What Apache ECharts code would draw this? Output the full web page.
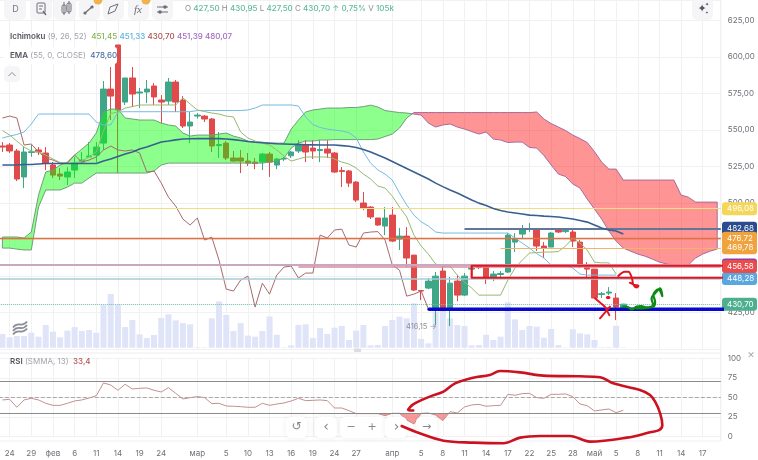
<!DOCTYPE html>
<html><head><meta charset="utf-8">
<style>html,body{margin:0;padding:0;background:#fff}#c{width:758px;height:460px}</style>
<script src="https://cdn.jsdelivr.net/npm/echarts@6/dist/echarts.min.js"></script>
</head><body><div id="c"></div>
<script>
const tickIndex=[1,4,7,10,13,16,19,22,27,31,34,37,40,43,46,49,54,58,61,64,67,70,73,76,79,82,85,88,91,94,97];
const tickLabels=['24','29','фев','6','11','14','19','24','мар','5','10','13','16','19','24','27','апр','5','8','11','14','17','22','25','28','май','5','8','11','14','17'];
const priceTicks=[425,450,475,500,525,550,575,600,625];
// [open, close, low, high]
const candles=[[539,538.3,534.9,541.7],[539.7,535.6,534.2,541],[535.6,516.4,515,537],[517.8,534.9,510.2,538.3],[534.6,535.1,531.7,539.7],[536.3,534.9,532.8,538.3],[534.2,527.3,522.5,538.3],[526,519.1,517.1,528],[519.8,518.4,515.7,523.9],[517.8,521.2,512.3,524.6],
[522.5,527.3,517.1,531.5],[528,529.4,526.7,534.9],[531.5,532.1,531.5,541.7],[532.8,538.3,528,541.7],[541,578,536.3,583.5],[578,573.2,556.8,593.1],[608.2,563.7,520.5,608.2],[569.1,585.6,567.1,585.6],[585.6,574.6,565.7,593.1],[575.3,576,565,578.7],
[576,578,568.4,584.2],[580.1,572.6,567.1,582.1],[570.5,569.1,554.7,573.9],[569.8,582.8,567.1,585.6],[582.8,569.1,562.3,584.2],[570.5,552.7,551.3,573.2],[552.7,555.4,541,562.3],[559.5,560.2,557.8,561.6],[559.5,557.5,555.4,560.2],[557.5,539,534.9,558.2],
[539.3,540,530.8,548.6],[541,530.8,529.4,542.4],[530.8,528.7,528,535.6],[530.8,528.7,520.5,536.3],[528.7,527.3,525.3,534.2],[528,527,523.2,530.8],[528,533.5,522.5,534.2],[533.5,528,517.8,534.9],[526,530.1,523.2,530.8],[530.1,530.4,528.7,531.5],
[532.3,534.9,530.8,535.6],[535.6,539.7,534.2,543.1],[539.7,534.9,528,543.1],[537.6,535.6,530.1,543.1],[535.9,536.6,528,543.1],[536.9,534.2,530.8,543.1],[534.2,521.2,520.5,534.9],[522.2,521.5,510.9,524.6],[521.9,513.6,510.9,522.6],[514.3,502,500.6,515],
[500,496.5,495.1,507.5],[497.2,490.4,489,497.9],[489.7,484.9,484.2,489.7],[484.2,489.7,478,497.2],[491.7,473.9,473.2,497.2],[475.3,477.3,467.8,482.8],[477.3,462.3,456.1,483.5],[464.3,440.4,439.7,464.3],[440,439.7,433.5,440.4],[441.7,446.5,441,448.6],
[428,449.9,416.2,452.7],[453.4,428,426,457.5],[428,445.1,415.7,449.3],[446.5,436.9,432.8,450.6],[436.9,449.9,436.2,452],[454.7,455.4,453.4,456.1],[456.4,455.7,454.7,457.5],[456.1,449.3,444.5,456.8],[449.3,451.3,446.5,453.4],[451,451.7,449.3,453.4],
[452.7,478,452,479.4],[473.2,475.3,466.4,479.4],[478.7,481.5,475.3,484.9],[481.8,482.5,480.1,486.2],[482.1,470.5,467.1,482.8],[470.5,469.1,462.3,473.2],[469.8,479.4,469.8,480.1],[481.5,480.1,479.4,482.8],[480.4,481.1,479.4,482.1],[480.1,473.9,469.8,481.5],
[473.2,456.8,455.4,474.6],[456.1,454.7,449.3,459.5],[454.7,434.9,434.9,454.7],[437.3,437.9,434.9,439],[438.3,439,436.9,442.4],[434.9,428.7,419.8,438.3],[427.5,430.7,427.5,430.95]];
const volumes=[66,50,56,56,72,53,109,77,50,82,99,80,85,72,205,258,205,99,133,64,46,61,142,160,131,118,112,2,2,141,222,157,80,118,58,53,80,150,62,2,11,109,112,46,94,66,96,104,37,82,109,11,13,104,133,149,141,213,42,21,173,213,141,109,104,11,13,62,37,53,218,136,85,104,101,48,90,13,2,88,69,64,37,3,3,105,2];
const tenkan=[549.6,546.5,542.4,538.3,535.6,534.9,532.8,530.1,527.7,527.3,527.3,528.7,531.5,534.9,549.3,561.3,562.3,565,566,567.1,567.1,567.1,567.1,567.1,567.1,571.9,567.8,563.7,562.6,561.6,560.9,559.5,558.9,548.6,544.5,542.4,541,539.7,536.3,532.1,528.7,530.1,531.5,531.5,531.5,531.5,530.1,528,526.7,523.9,519.8,516.4,511.6,510.2,504.7,497.2,490.4,478,470.5,465,458.2,456.8,456.8,450.6,445.8,441.7,436.9,436.9,436.9,436.9,447.2,455.4,460.9,465.7,466,466.4,466.4,466.7,470.5,476,472.5,467.8,459.5,459,459,451.3];
const kijun=[544.5,545.8,546.9,548.6,554.1,560.9,560.9,560.9,560.9,560.9,560.9,560.9,560.9,555.4,553.4,553.4,562.3,562.5,562.5,562.5,562.5,562.5,562.5,562.5,562.5,562.5,562.5,563.3,563.3,563.3,563.3,563.3,563.3,563.3,563.7,565,567.1,567.1,567.1,567.1,567.1,566.4,558.9,553.7,551.7,550.6,549.9,549.3,548.2,544.5,534.9,527.3,522.6,519.8,515.7,506.8,498.6,491.7,487.1,484.2,480.1,479.4,479.4,479.4,479.4,479.4,479.4,479.4,479.4,479.4,479.4,476,472.5,469.1,465.3,462.3,457.5,457.5,456.8,455.4,451.3,450.6,450.6,450.6,450.6,450.6];
const chikou=[558.2,559.5,558.2,539.7,540.4,534.9,530.8,529.4,527.3,527.3,532.8,528,529.4,531.5,536.3,539,536.3,535.6,536.3,534.2,521.2,521.9,513.6,504,497.9,489,484.9,489.7,474.6,476.6,460.9,441,439.7,447.2,449.9,428.7,445.1,437.6,450.6,456.1,456.8,448.6,452,452,478,476,481.5,482.1,471.2,469.8,479.4,480.1,480.4,474.6,457.5,454,436.2,437.6,439.7,427.4];
const senkouA=[476.7,476.7,476.7,476,480.1,505.4,521.2,522.6,526,528,532.8,536.9,541,547.9,562.3,564.3,564.3,558.2,557.5,556.8,556.8,556.8,554.7,553.4,552.7,547.9,545.8,546.5,546.5,546.5,547.2,547.9,545.8,544.5,542.4,541.7,541.7,541,541,541,550.6,556.8,562.3,563.7,564.3,565,565,565,565.4,565.4,566,567,565.7,563.3,562.6,561.9,561.6,560.9,560.2,554.7,552,553.4,554.1,552,550.6,548.9,547.2,548.6,543.8,543.1,541.4,541.7,541.7,538,537.6,532.5,526,519.8,518.1,513,510.2,502.7,495.8,489,480.8,473.9,469.1,467,465,463.6,461.6,459.5,458.2,457.5,457.5,457.5,462.3,465,467,468.4];
const senkouB=[469.1,469.1,468.4,467.8,467.8,497.2,508.9,508.9,508.9,510.9,513.6,513.6,517.1,520.5,520.5,520.5,520.5,520.5,520.5,520.5,520.5,521.9,526,527.3,527.3,527.3,527.3,527.3,527.3,527.3,527.3,527.3,527.3,527.3,527.3,527.3,527.3,528,528.7,530.8,537.6,541,542.4,542.4,543.1,543.1,543.4,543.4,543.4,543.4,543.4,543.4,543.8,545.5,547.2,551.3,558.2,561.9,561.9,561.9,561.9,561.9,561.9,561.9,561.9,561.9,561.9,561.9,561.9,561.9,561.9,561.9,561.9,561.9,562.3,557.5,554.4,552,549.6,546.5,544.1,541.4,535.2,528,523.2,523.2,515.7,515.7,515.7,515.7,515.7,515.7,515.7,515.7,505.4,504,500.6,500.6,500.6,500.6];
const ema=[526,526,526,526.3,526.3,526.7,527,527,527,527,527,527,527,527,528.7,530.1,531.8,533.5,534.9,536.9,538.3,540,541.7,542.4,543.2,543.8,544,544.1,544.1,544.1,544.1,543.8,543.4,542.8,542.1,541.6,541.2,540.9,540.6,540.4,540.2,540.1,539.9,539.8,539.7,539.7,539.7,539.3,538.8,538,536.6,534.9,532.8,530.8,528.4,526,523.6,521.2,518.8,516.4,513.6,511.2,508.9,506.8,504.4,502,499.9,498.2,496.2,494.8,493.8,493.1,492.4,491.7,491.4,491,490.7,490.4,489.7,489,488,486.9,484.9,482.8,481.5,480.8,478.7];
const rsi=[46.6,47.4,37.2,46.6,48.7,46.6,42.3,39.7,39.7,42.3,45.3,46.6,49.1,52.1,68.4,65.8,59,66.7,60.7,61.5,62,59,56.8,62.4,55.1,47.9,49.6,50.9,49.6,41.9,42.3,38.9,38.5,38,37.2,37.2,42.3,39.7,41.4,42.7,45.3,48.7,45.7,46.1,46.6,45.7,36.3,36.3,32.9,29.1,29.1,29.1,29.1,26.5,29.5,29.5,20.9,15.8,29.5,29.9,27.3,20,31.6,29.9,37.6,40.2,41,38.5,39.3,39.7,53.8,52.6,54.7,55.1,49.6,48.7,53.8,53.8,54.3,50.9,41.4,39.3,32.5,33.8,35,30.3,33.3];
// horizontal drawing levels: [price, start bar, line colour, line width, label, label colour]
const levels=[
 [457.6,-0.5,'#c9a6c2',2,'458,10','#8b3fa3'],
 [448.28,-0.5,'#a9cbd8',1.5,'448,28','#5aa7e0'],
 [456.58,41,'#d98d98',1.5,'456,58','#e94c4c'],
 [482.68,64,'#60779a',2,'482,68','#2a4b8d'],
 [496.08,9,'#eedf85',1,'496,08','#f4d659'],
 [475.9,-0.5,'#de7240',1.4,'476,72','#f0a23c'],
 [469.3,69,'#efb56b',1,'469,78','#f0a23c'],
 [430.7,-0.5,'#71bfa8',1,'430,70','#4daf8f']];
// hand-drawn strokes on the price pane, in [bar, price]
const strokeBlue=[[59.1,427.3],[104.7,427.3]];
const strokeBox=[[65,457],[103.5,457],[103.5,448.8],[65,448.8],[65,457]];
const strokeArrow=[[85.3,450],[86.2,452.9],[86.7,452.9],[87.2,448.4],[87.4,443.8],[87.9,442.2],[88.1,443.3],[87.6,443.8],[86.9,445.4]];
const strokeScribble=[[86,429],[86.7,428.5],[87.15,427.1],[87.85,429],[88.5,429.4],[89.2,428.5],[90.15,430.1],[89.9,434.6],[90.4,438.1],[91.1,441.5],[91.4,436.2],[90.85,440.8],[90.15,436.9],[90.4,432.4],[90.15,429],[87.85,427.8]];
const strokeX1=[[82.07,434.7],[83.46,429],[84.06,423.2]];
const strokeX2=[[84.15,429],[82.77,421]];
const strokeDot=[[83.8,435.3],[84,435.3]];
// hand-drawn loop on the RSI pane, in [bar, RSI]
const strokeLoop=[[56.9,33],[56.2,33.8],[56.9,41],[59.2,50.9],[61.1,57.3],[62.7,67.9],[65.2,75.2],[67.5,78.6],[68.9,83.8],[71.7,82],[74.9,77.8],[80,76.9],[82.8,75.6],[84.6,67.9],[88.3,59.4],[89.7,53],[90.4,44.4],[91.1,29.5],[91.4,14.5],[91,8.1],[89.7,5.1],[86.5,-1.7],[81.4,-6.8],[78.6,.4],[74.5,.4],[71.7,-1.7],[69.4,-9],[65.2,-8.1],[61.1,-5.6],[57.8,3.8],[55.3,13.2]];

const F='Inter, "Noto Sans", sans-serif';
const BARS=100;
const categories=Array.from({length:BARS},(_,i)=>{const p=tickIndex.indexOf(i);return p<0?'':tickLabels[p];});
const isTick=(i,v)=>v!=='';
const xy=a=>a.map((v,i)=>[i,v]);

function regions(a,b){ // contiguous runs of a>b / a<b with crossings inserted
  const out=[];let cur=null;const n=Math.min(a.length,b.length);
  for(let i=0;i<n;i++){
    const s=a[i]>=b[i]?1:-1;
    if(cur&&cur.s!==s){
      const t=(b[i-1]-a[i-1])/((a[i]-a[i-1])-(b[i]-b[i-1]));
      const X=i-1+t,Y=a[i-1]+t*(a[i]-a[i-1]);
      cur.up.push([X,Y]);cur.lo.push([X,Y]);out.push(cur);
      cur={s,up:[[X,Y]],lo:[[X,Y]]};
    }
    if(!cur)cur={s,up:[],lo:[]};
    cur.up.push([i,a[i]]);cur.lo.push([i,b[i]]);
  }
  out.push(cur);return out;
}
function fillSeries(regs,xi,yi,style,z){
  return {type:'custom',xAxisIndex:xi,yAxisIndex:yi,silent:true,z,animation:false,clip:false,
    data:regs.map((r,i)=>[i]),
    renderItem(p,api){
      const r=regs[p.dataIndex];
      const pts=r.up.concat(r.lo.slice().reverse()).map(q=>api.coord(q));
      return {type:'polygon',shape:{points:pts},style:style(r)};
    }};
}
const lineS=(data,color,width,z,xi,yi,extra)=>Object.assign({type:'line',xAxisIndex:xi,yAxisIndex:yi,data,showSymbol:false,symbol:'none',silent:true,z,animation:false,
  lineStyle:{color,width}},extra||{});
const stroke=(pts,color,width,xi,yi,smooth)=>lineS(pts,color,width,60,xi,yi,{clip:false,smooth:smooth?0.35:false,lineStyle:{color,width,cap:'round',join:'round'}});

const series=[
 {type:'bar',xAxisIndex:4,yAxisIndex:2,data:volumes,barWidth:6,silent:true,z:1,animation:false,itemStyle:{color:'#dfe4f8'}},
 {type:'candlestick',xAxisIndex:0,yAxisIndex:0,data:candles,barWidth:6,silent:true,z:2,animation:false,
  itemStyle:{color:'#3fa688',color0:'#e04a4a',borderColor:'#3fa688',borderColor0:'#e04a4a',borderWidth:1}},
 fillSeries(regions(senkouA,senkouB),2,0,r=>r.s>0?{fill:'rgba(0,255,0,0.45)',stroke:'#6f9f7a',lineWidth:1}:{fill:'rgba(255,0,0,0.42)',stroke:'#a86a9c',lineWidth:1},3),
 lineS(xy(chikou),'#a96a6a',1,4,2,0),
 lineS(xy(kijun),'#72bbe3',1,4,2,0),
 lineS(xy(tenkan),'#96b972',1,4,2,0),
 lineS(xy(ema),'#38608f',1.6,5,2,0),
 {type:'line',xAxisIndex:2,yAxisIndex:0,data:[],silent:true,z:6,animation:false,
  markLine:{silent:true,symbol:'none',animation:false,precision:2,
   data:levels.map(l=>[{coord:[l[1],l[0]],lineStyle:{color:l[2],width:l[3],type:l[4]==='430,70'?'dotted':'solid'},
     label:{show:true,position:'end',distance:1.2,formatter:l[4],color:'#fff',fontFamily:F,fontSize:8,backgroundColor:l[5],borderRadius:3,width:25,align:'left',padding:[2.5,5],lineHeight:8}},
     {coord:[99.5,l[0]]}])}},
 fillSeries(regions(rsi,rsi.map(()=>30)).filter(r=>r.s<0),3,1,()=>({fill:'rgba(245,70,70,0.55)'}),3),
 lineS(xy(rsi),'#c49090',1,4,3,1,{markLine:{silent:true,symbol:'none',animation:false,label:{show:false},
   data:[{yAxis:70,lineStyle:{color:'#8b8b8b',width:1,type:'solid'}},{yAxis:50,lineStyle:{color:'#a8a8a8',width:1,type:'dashed'}},{yAxis:30,lineStyle:{color:'#8b8b8b',width:1,type:'solid'}}]}}),
 stroke(strokeBlue,'#0808cc',3.5,2,0),
 stroke(strokeBox,'#e8121c',2.2,2,0),
 stroke(strokeArrow,'#e01420',2,2,0,true),
 stroke(strokeScribble,'#0c8a12',2.2,2,0,true),
 stroke(strokeX1,'#e8141e',2,2,0),
 stroke(strokeX2,'#e8141e',2,2,0),
 stroke(strokeDot,'#e8141e',3,2,0),
 stroke(strokeLoop,'#cc1220',2.6,3,1,true)
];

/* interface chrome */
const G=[];
const rect=(x,y,w,h,fill,r,z,extra)=>G.push(Object.assign({type:'rect',z:z||30,silent:true,shape:{x,y,width:w,height:h,r:r||0},style:{fill}},extra||{}));
const txt=(x,y,text,fill,size,align,extra,z)=>G.push({type:'text',z:z||31,silent:true,x,y,style:Object.assign({text,fill,font:(size||8)+'px '+F,textAlign:align||'left',textVerticalAlign:'middle'},extra||{})});
const ln=(x1,y1,x2,y2,c,w,z)=>G.push({type:'line',z:z||31,silent:true,shape:{x1,y1,x2,y2},style:{stroke:c,lineWidth:w||1}});
const circ=(cx,cy,r,fill,z)=>G.push({type:'circle',z:z||31,silent:true,shape:{cx,cy,r},style:{fill}});
[[4,22],[30,22],[54,22],[79,21],[103,21],[128,21],[152,21]].forEach(b=>rect(b[0],-3,b[1],23,'#f5f5f7',5,30));
rect(692,-3,21,23,'#f5f5f7',5,30);
txt(15.5,9,'D','#77787f',9,'center');
G.push({type:'rect',z:31,silent:true,shape:{x:37,y:3,width:8,height:10,r:1},style:{fill:'none',stroke:'#6c6d75',lineWidth:1}});
ln(39,6,43,6,'#6c6d75');ln(39,9,42,9,'#6c6d75');ln(43,11,46,15,'#6c6d75',1.4);
[[62,5,4,8],[67,3,4,9]].forEach(b=>G.push({type:'rect',z:31,silent:true,shape:{x:b[0],y:b[1],width:b[2],height:b[3],r:1.5},style:{fill:'none',stroke:'#6c6d75'}}));
ln(64,2,64,15,'#6c6d75');ln(69,1,69,14,'#6c6d75');
ln(85,13,93,6,'#6c6d75',1.2);circ(85,13,1.6,'#6c6d75');circ(92,7,1.6,'#6c6d75');
G.push({type:'polygon',z:31,silent:true,shape:{points:[[108,14],[110,7],[118,4],[115,11]]},style:{fill:'none',stroke:'#6c6d75'}});
txt(138,10,'fx','#6c6d75',12,'center',{font:'italic 11px "Liberation Serif", serif'});
ln(157,7,168,7,'#6c6d75');ln(157,12,168,12,'#6c6d75');circ(165,7,1.8,'#6c6d75');circ(160,12,1.8,'#6c6d75');
circ(98,0,4.5,'#f0b24a');circ(146,0,4.5,'#f0b24a');
txt(702,9,'✦','#55565e',10,'center',{font:'11px "DejaVu Sans"'});txt(707,5,'✦','#55565e',5,'center',{font:'5px "DejaVu Sans"'});txt(707,13,'✦','#55565e',4,'center',{font:'4px "DejaVu Sans"'});

const rich=o=>Object.fromEntries(Object.entries(o).map(([k,v])=>[k,{fill:v[0],font:(v[1]||'')+' 8px '+F}]));
G.push({type:'text',z:31,silent:true,x:185,y:9,style:{text:'{l|O} {g|427,50} {l|H} {g|430,95} {l|L} {g|427,50} {l|C} {g|430,70} {a|↑} {g|0,75%} {l|V} {g|105k}',textVerticalAlign:'middle',font:'8px '+F,
  rich:rich({l:['#8b8f97'],g:['#62ba9e','500'],a:['#62ba9e']})}});
rect(4,47,113,17,'#fff',3,29);
G.push({type:'text',z:31,silent:true,x:10,y:36.5,style:{text:'{d|Ichimoku} {l|(9, 26, 52)}  {a|451,45} {b|451,33} {c|430,70} {e|451,39} {e|480,07}',textVerticalAlign:'middle',font:'8px '+F,
  rich:rich({d:['#55565e','600'],l:['#a2a3ab'],a:['#86b552','500'],b:['#5ab2e2','500'],c:['#ad4f4f','500'],e:['#a06cc0','500']})}});
G.push({type:'text',z:31,silent:true,x:10,y:55.5,style:{text:'{d|EMA} {l|(55, 0, CLOSE)}  {b|478,60}',textVerticalAlign:'middle',font:'8px '+F,
  rich:rich({d:['#55565e','600'],l:['#a2a3ab'],b:['#4a6fa5','500']})}});
rect(4,66,16,16,'#f5f5f7',4,30);
G.push({type:'polyline',z:31,silent:true,shape:{points:[[8.5,76],[12,72.5],[15.5,76]]},style:{fill:'none',stroke:'#8d8e96',lineWidth:1}});
G.push({type:'text',z:31,silent:true,x:10,y:362,style:{text:'{d|RSI} {l|(SMMA, 13)}  {c|33,4}',textVerticalAlign:'middle',font:'8px '+F,
  rich:rich({d:['#55565e','600'],l:['#a2a3ab'],c:['#b85050','500']})}});
txt(751,356,'✕','#a6a7ae',10,'center',{font:'9px "DejaVu Sans"'});
/* price-pane furniture */
ln(0,353,720,353,'#ececef',1,1);ln(0,441,720,441,'#f1f1f4',1,1);ln(720.8,0,720.8,441,'#ececef',1,1);
rect(354,348.5,7,3.5,'#dcdce0',0,2);
circ(20,327,9,'#fff',30);
[321.5,325,328.5].forEach(y=>G.push({type:'bezierCurve',z:31,silent:true,shape:{x1:13,y1:y+6,x2:27,y2:y,cpx1:18,cpy1:y-1,cpx2:22,cpy2:y+7},style:{fill:'none',stroke:'#8d8f99',lineWidth:1.8}}));
txt(406,327,'416,15 →','#8f9098',7.5,'left');
/* bottom navigator */
const shadow={shadowBlur:6,shadowColor:'rgba(0,0,0,.07)'};
[[286,21],[315,22],[340,46],[385,22],[416,21]].forEach(b=>{G.push({type:'rect',z:40,silent:true,shape:{x:b[0],y:417,width:b[1],height:21,r:5},style:Object.assign({fill:'#fff'},shadow)});});
txt(296.5,427,'↺','#85868e',13,'center',{font:'12px "DejaVu Sans"'},41);
txt(326,427,'‹','#85868e',15,'center',{font:'14px "DejaVu Sans"'},41);
txt(351,427,'−','#85868e',13,'center',{font:'11px "DejaVu Sans"'},41);
txt(372,427,'+','#85868e',13,'center',{font:'11px "DejaVu Sans"'},41);
txt(396.5,427,'›','#85868e',15,'center',{font:'14px "DejaVu Sans"'},41);
txt(426.5,427,'→','#85868e',12,'center',{font:'11px "DejaVu Sans"'},41);

const gridLine={lineStyle:{color:'#f1f1f4',width:1}};
const chart=echarts.init(document.getElementById('c'));
chart.setOption({
 animation:false,backgroundColor:'#fff',
 grid:[{left:-1.2,width:722,top:0,height:349,outerBoundsMode:'none'},{left:-1.2,width:722,top:358.3,height:78,outerBoundsMode:'none'},{left:-1.2,width:722,top:47.7,height:300,outerBoundsMode:'none'}],
 xAxis:[
  {type:'category',gridIndex:0,data:categories,boundaryGap:true,axisLine:{show:false},axisTick:{show:false},axisLabel:{show:false,interval:isTick},splitLine:{show:true,interval:isTick,alignWithLabel:true,...gridLine}},
  {type:'category',gridIndex:1,data:categories,boundaryGap:true,axisLine:{show:false},axisTick:{show:false},
   axisLabel:{interval:isTick,color:'#6f7078',fontFamily:F,fontSize:8,margin:13,hideOverlap:false},splitLine:{show:true,interval:isTick,alignWithLabel:true,...gridLine}},
  {type:'value',gridIndex:0,min:-0.5,max:99.5,show:false,splitLine:{show:false}},
  {type:'value',gridIndex:1,min:-0.5,max:99.5,show:false,splitLine:{show:false}},
  {type:'category',gridIndex:2,data:categories,show:false}
 ],
 yAxis:[
  {type:'value',gridIndex:0,position:'right',min:400,max:639,interval:25,axisLine:{show:false},axisTick:{show:false},splitLine:gridLine,
   axisLabel:{margin:7,color:'#6f7078',fontFamily:F,fontSize:8,formatter:v=>priceTicks.includes(v)?v.toFixed(2).replace('.',','):''}},
  {type:'value',gridIndex:1,position:'right',min:0,max:100,interval:25,axisLine:{show:false},axisTick:{show:false},splitLine:gridLine,
   axisLabel:{margin:7,color:'#6f7078',fontFamily:F,fontSize:8}},
  {type:'value',gridIndex:2,min:0,max:1440,show:false,splitLine:{show:false}}
 ],
 series,
 graphic:{elements:G}
});
</script></body></html>
